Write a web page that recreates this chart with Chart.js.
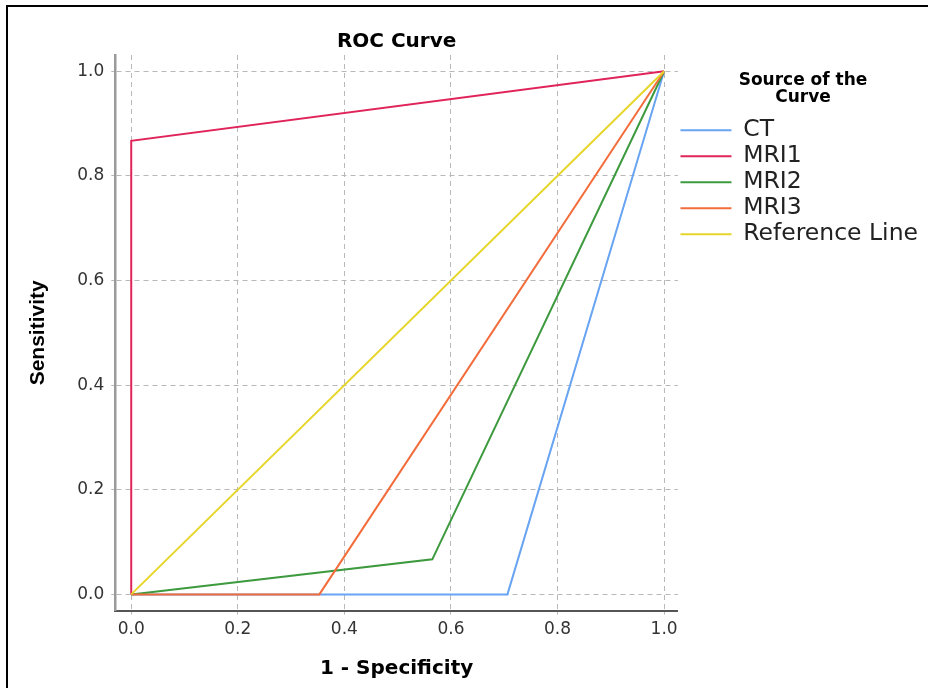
<!DOCTYPE html>
<html><head><meta charset="utf-8">
<script src="https://cdn.jsdelivr.net/npm/chart.js@4.4.1/dist/chart.umd.min.js"></script>
<style>
html,body{margin:0;padding:0;background:#fff;}
#wrap{position:relative;width:928px;height:688px;overflow:hidden;background:#fff;}
#frame{position:absolute;left:6px;top:5px;width:1000px;height:1000px;border-left:2px solid #000;border-top:2px solid #000;pointer-events:none;}
canvas{position:absolute;left:0;top:0;}
</style></head><body>
<div id="wrap"><canvas id="c" width="928" height="688"></canvas><div id="frame"></div></div>
<script>
// ---- data ----
const seriesNames = ['CT', 'MRI1', 'MRI2', 'MRI3', 'Reference Line'];
const ctX  = [0, 0.706, 1];   const ctY  = [0, 0, 1];
const mri1X = [0, 0, 1];      const mri1Y = [0, 0.867, 1];
const mri2X = [0, 0.565, 1];  const mri2Y = [0, 0.067, 1];
const mri3X = [0, 0.353, 1];  const mri3Y = [0, 0, 1];
const refX = [0, 1];          const refY = [0, 1];
const xTicks = [0, 0.2, 0.4, 0.6, 0.8, 1.0];
const yTicks = [0, 0.2, 0.4, 0.6, 0.8, 1.0];
const seriesColors = ['#68a4f2', '#e0245a', '#3e9a3e', '#f36d3c', '#e6d62a'];

const xs = [ctX, mri1X, mri2X, mri3X, refX];
const ys = [ctY, mri1Y, mri2Y, mri3Y, refY];
const pts = (a, b) => a.map((v, i) => ({x: v, y: b[i]}));

const datasets = seriesNames.map((name, i) => ({
  label: name,
  data: pts(xs[i], ys[i]),
  borderColor: seriesColors[i],
  backgroundColor: seriesColors[i],
  borderWidth: 2,
  pointRadius: 0,
  pointStyle: 'line',
  tension: 0,
  fill: false,
  order: seriesNames.length - i
}));

const font = 'DejaVu Sans';
const gridCommon = {color: '#b8b8b8', lineWidth: 1, drawTicks: true, tickLength: 4};

new Chart(document.getElementById('c'), {
  type: 'line',
  data: {datasets},
  options: {
    responsive: false,
    animation: false,
    devicePixelRatio: 1,
    layout: {padding: {left: 10, right: 0, top: 20, bottom: 0}},
    scales: {
      x: {
        type: 'linear', min: -0.030, max: 1.026,
        afterBuildTicks: s => { s.ticks = xTicks.map(v => ({value: v})); },
        grid: gridCommon,
        border: {display: true, color: '#555', width: 2, dash: [5, 4]},
        ticks: {padding: 5, color: '#333', font: {family: font, size: 17}, callback: v => v.toFixed(1), maxRotation: 0},
        title: {display: true, text: '1 - Specificity', color: '#000',
                font: {family: font, size: 20, weight: 'bold'}, padding: {top: 12, bottom: 7}}
      },
      y: {
        type: 'linear', min: -0.031, max: 1.031,
        afterBuildTicks: s => { s.ticks = yTicks.map(v => ({value: v})); },
        grid: gridCommon,
        border: {display: true, color: '#9a9a9a', width: 2.5, dash: [5, 4]},
        ticks: {padding: 7, color: '#333', font: {family: font, size: 17}, callback: v => v.toFixed(1)},
        title: {display: true, text: 'Sensitivity', color: '#000',
                font: {family: "'Liberation Sans', Arial, sans-serif", size: 21, weight: 'bold'},
                padding: {top: 16, bottom: 19}}
      }
    },
    plugins: {
      title: {display: true, text: 'ROC Curve', color: '#000', fullSize: false,
              font: {family: font, size: 20, weight: 'bold', lineHeight: 1.2}, padding: {top: 10, bottom: 1}},
      legend: {
        position: 'right', align: 'start', maxWidth: 300,
        title: {display: true, text: ['Source of the', 'Curve'], color: '#000',
                font: {family: font, size: 17, weight: 'bold', lineHeight: 1}, padding: {top: 52, bottom: 27}},
        labels: {
          usePointStyle: true, pointStyle: 'line', pointStyleWidth: 51,
          padding: 2.5, color: '#222', font: {family: font, size: 23.5},
          sort: (a, b) => a.datasetIndex - b.datasetIndex
        }
      },
      tooltip: {enabled: false}
    }
  }
});
</script>
</body></html>
